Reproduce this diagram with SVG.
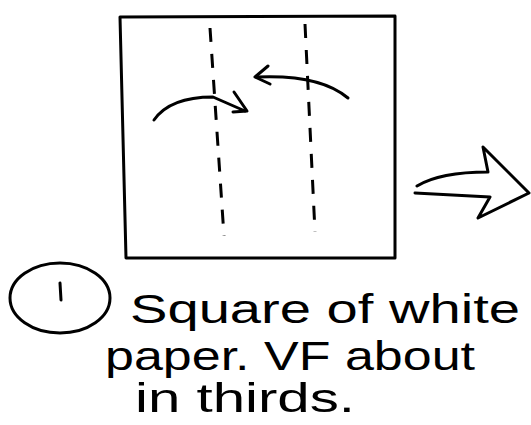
<svg xmlns="http://www.w3.org/2000/svg" width="531" height="425" viewBox="0 0 531 425">
<style>
.ln{fill:none;stroke:#000;stroke-width:3;stroke-linecap:round;stroke-linejoin:round}
.dash{fill:none;stroke:#000;stroke-width:3;stroke-dasharray:14 12}
.t{font-family:"Liberation Sans",Arial,sans-serif;font-size:40px;fill:#000}
</style>
<rect width="531" height="425" fill="#fff"/>
<g id="paper">
<path class="ln" d="M120,17 L395,16 L395,258 L126,258 Z"/>
</g>
<g id="folds">
<path class="dash" d="M210,28 L224,236"/>
<path class="dash" d="M305,24 L315,232"/>
</g>
<g id="connectors">
<path class="ln" d="M154,120 Q170,97 213,97 L245,111"/>
<path class="ln" d="M234,92 L247,111 L233,112" stroke-width="4"/>
<path class="ln" d="M348,98 Q320,74 256,77"/>
<path class="ln" d="M268,66 L255,77 L270,84" stroke-width="4"/>
</g>
<g id="next-arrow">
<path class="ln" d="M417,186 Q440,172 488,172 L483,147 L529,193 L478,218 L490,197 L415,193"/>
</g>
<g id="step">
<ellipse class="ln" cx="60" cy="298" rx="50" ry="35" stroke-width="2"/>
<path class="ln" d="M60,283 L61,300"/>
</g>
<g id="caption">
<text class="t" x="130" y="323" textLength="390" lengthAdjust="spacingAndGlyphs">Square of white</text>
<text class="t" x="105" y="370" textLength="370" lengthAdjust="spacingAndGlyphs">paper. VF about</text>
<text class="t" x="135" y="412" textLength="220" lengthAdjust="spacingAndGlyphs">in thirds.</text>
</g>
</svg>
